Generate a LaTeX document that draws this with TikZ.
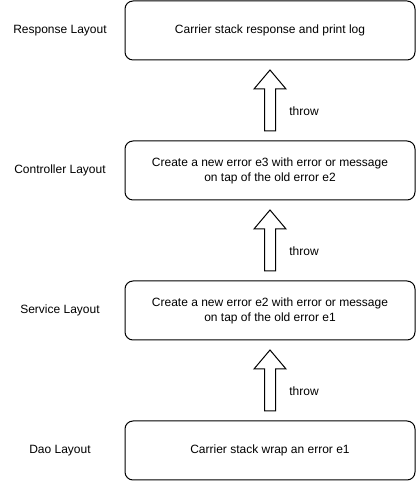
\documentclass[tikz,border=0pt]{standalone}
\usepackage{fontspec}
\setmainfont{Liberation Sans}
\usetikzlibrary{positioning,calc}
\tikzset{
  layerbox/.style={draw=black, rounded corners=8pt, line width=1pt,
    minimum width=290pt, minimum height=59pt, align=center,
    inner sep=0pt, outer sep=0pt, font=\fontsize{12}{15}\selectfont},
  layername/.style={align=center, font=\fontsize{12}{15}\selectfont},
  throwtag/.style={font=\fontsize{12}{15}\selectfont},
  arrowline/.style={draw=black, line width=1pt, fill=white, line join=miter}
}
\newcommand{\throwarrow}[2]{
  \draw[arrowline]
    ($(#1.north) + (-\Sw, \Gap)$) -- ($(#2.south) + (-\Sw, -\Gap - \Hl)$)
    -- ($(#2.south) + (-\Hw, -\Gap - \Hl)$) -- ($(#2.south) + (0, -\Gap)$)
    -- ($(#2.south) + (\Hw, -\Gap - \Hl)$) -- ($(#2.south) + (\Sw, -\Gap - \Hl)$)
    -- ($(#1.north) + (\Sw, \Gap)$) -- cycle;
}

\begin{document}
\begin{tikzpicture}[x=1pt, y=1pt]
  % Arrow sizes
  \pgfmathsetmacro{\Sw}{5.5}
  \pgfmathsetmacro{\Hw}{16}
  \pgfmathsetmacro{\Hl}{19}
  \pgfmathsetmacro{\Gap}{10}

  \useasboundingbox (0, 0) rectangle (416, 481);

  % Layers
  \node[layerbox] (response) at (270, 450.5) {Carrier stack response and print log};
  \node[layerbox, below=81pt of response] (controller)
    {Create a new error e3 with error or message\\on tap of the old error e2};
  \node[layerbox, below=81pt of controller] (service)
    {Create a new error e2 with error or message\\on tap of the old error e1};
  \node[layerbox, below=81pt of service] (dao) {Carrier stack wrap an error e1};

  % Names on the left
  \node[layername] (responsetag) at ($(response.west) + (-65, 0)$) {Response Layout};
  \node[layername] (controllertag) at ($(controller.west) + (-65, 0)$) {Controller Layout};
  \node[layername] (servicetag) at ($(service.west) + (-65, 0)$) {Service Layout};
  \node[layername] (daotag) at ($(dao.west) + (-65, 0)$) {Dao Layout};

  % Arrows
  \throwarrow{controller}{response}
  \throwarrow{service}{controller}
  \throwarrow{dao}{service}

  \node[throwtag] (throwone) at ($(controller.north)!0.5!(response.south) + (34, -11)$) {throw};
  \node[throwtag] (throwtwo) at ($(service.north)!0.5!(controller.south) + (34, -11)$) {throw};
  \node[throwtag] (throwthree) at ($(dao.north)!0.5!(service.south) + (34, -11)$) {throw};
\end{tikzpicture}
\end{document}
